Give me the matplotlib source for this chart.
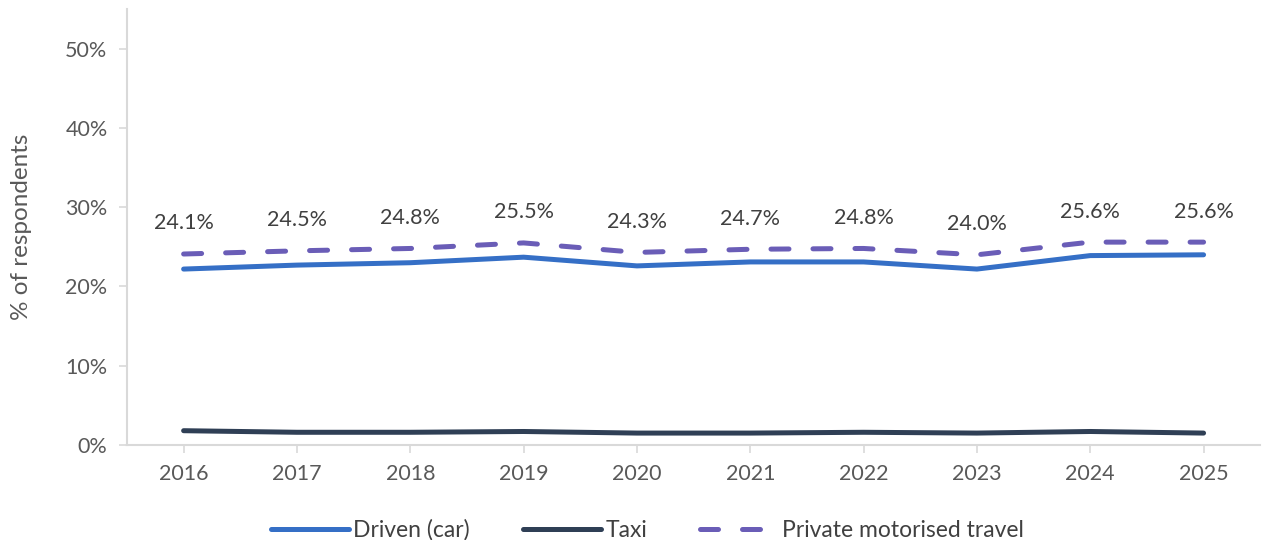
import numpy as np
import matplotlib as mpl
mpl.use('Agg')
from matplotlib import pyplot as plt
from matplotlib.ticker import FuncFormatter

mpl.rcParams.update({'font.family': ['Lato', 'DejaVu Sans'],
                     'font.size': 15})

years = ['2016', '2017', '2018', '2019', '2020', '2021', '2022', '2023', '2024', '2025']
driven = [22.2, 22.7, 23.0, 23.7, 22.6, 23.1, 23.1, 22.2, 23.9, 24.0]
taxi = [1.8, 1.6, 1.6, 1.7, 1.5, 1.5, 1.6, 1.5, 1.7, 1.5]
private = [24.1, 24.5, 24.8, 25.5, 24.3, 24.7, 24.8, 24.0, 25.6, 25.6]

c_driven = '#356fc6'
c_taxi = '#2f3f55'
c_private = '#6a5db7'
grey = '#595959'

fig = plt.figure(figsize=(12.62, 5.4), dpi=100)
ax = fig.add_axes([0.1006, 0.176, 0.898, 0.807])

x = np.arange(len(years))
ax.plot(x, driven, color=c_driven, lw=3.6, solid_capstyle='round', label='Driven (car)')
ax.plot(x, taxi, color=c_taxi, lw=3.6, solid_capstyle='round', label='Taxi')
ax.plot(x, private, color=c_private, lw=3.6, dashes=(3.6, 4.8), dash_capstyle='round',
        label='Private motorised travel')

# data labels on the dashed series
for xi, v in zip(x, private):
    ax.annotate(f'{v:.1f}%', (xi, v), xytext=(0, 22), textcoords='offset points',
                ha='center', va='center', color='#404040', fontsize=15.5)

ax.set_xlim(-0.5, len(years) - 0.5)
ax.set_ylim(0, 55)
ax.set_yticks(np.arange(0, 51, 10))
ax.yaxis.set_major_formatter(FuncFormatter(lambda v, p: f'{v:.0f}%'))
ax.set_xticks(x)
ax.set_xticklabels(years)
ax.set_ylabel('% of respondents', color=grey, fontsize=17.5, labelpad=24)

for s in ['top', 'right']:
    ax.spines[s].set_visible(False)
for s in ['left', 'bottom']:
    ax.spines[s].set_color('#d9d9d9')
    ax.spines[s].set_linewidth(1.5)
ax.tick_params(colors='#d9d9d9', labelcolor=grey, width=1.2, length=6, labelsize=15.5)
ax.tick_params(axis='y', pad=8)
ax.tick_params(axis='x', pad=8)

fig.legend(loc='lower center', bbox_to_anchor=(0.513, -0.04), ncol=3, frameon=False,
           handlelength=3.4, handletextpad=0.2, columnspacing=2.3, fontsize=16.5,
           labelcolor='#404040')

fig.savefig('out.png', dpi=100)
